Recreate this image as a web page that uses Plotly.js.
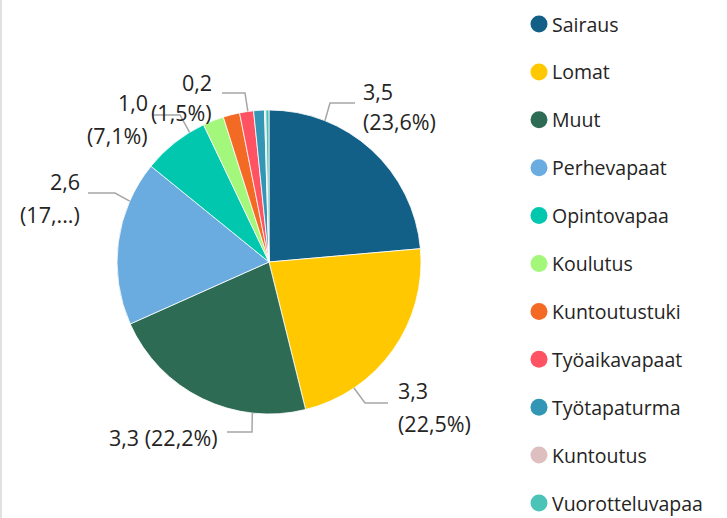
<!DOCTYPE html>
<html>
<head>
<meta charset="utf-8">
<script src="https://cdn.plot.ly/plotly-3.0.1.min.js"></script>
<style>
html,body{margin:0;padding:0;background:#fff;}
#chart{width:727px;height:518px;}
</style>
</head>
<body>
<div id="chart"></div>
<script>
// ---- data ----
const categories = ["Sairaus","Lomat","Muut","Perhevapaat","Opintovapaa","Koulutus","Kuntoutustuki","Työaikavapaat","Työtapaturma","Kuntoutus","Vuorotteluvapaa"];
const values = [3.5, 3.34, 3.29, 2.6, 1.048, 0.33, 0.26, 0.22, 0.17, 0.02, 0.05];
const colors = ["#125F87","#FFC800","#2E6B55","#6AACE0","#00C7AE","#A3F77A","#F26A23","#FF5263","#3396B5","#DEBFC0","#4CC3B7"];

// ---- layout constants (pixels) ----
const W = 727, H = 518;
const CX = 269, CY = 262, R = 152;
const FONT = "Open Sans, DejaVu Sans, sans-serif";
const TXT = "#252423";
const LINE = "#A6A6A6";
const LABEL_SIZE = 21.5, LEGEND_SIZE = 19.5;

// label placement for the labelled slices (edge angle in degrees clockwise from top)
const labelSpec = [
  {idx:0, ang:21.6,  elbow:[330,103], end:[355,103], side:"left",  tx:362, ys:[92,122]},
  {idx:1, ang:146,   elbow:[365,403], end:[388,403], side:"left",  tx:397, ys:[390,423]},
  {idx:2, ang:186.3, elbow:[252,432], end:[227,432], side:"right", tx:219, ys:[437], oneLine:true},
  {idx:3, ang:293.6, elbow:[115,193], end:[88,193],  side:"right", tx:81,  ys:[182,214], truncate:true},
  {idx:4, ang:328.5, elbow:[180,115], end:[153,115], side:"right", tx:149, ys:[103,136]},
  {idx:7, ang:352,   elbow:[245,93],  end:[222,93],  side:"right", tx:213, ys:[82,112]}
];

const px = x => x / W;
const py = y => 1 - y / H;
const total = values.reduce((a,b)=>a+b,0);
const fmt = v => v.toFixed(1).replace('.', ',');

const shapes = [];
const annotations = [];

// left border line
shapes.push({type:'line', xref:'paper', yref:'paper', x0:px(1), x1:px(1), y0:0, y1:1,
  line:{color:'#E1E1E1', width:2}});

labelSpec.forEach(s => {
  const a = s.ang * Math.PI / 180;
  const ex = CX + R * Math.sin(a), ey = CY - R * Math.cos(a);
  const path = `M ${px(ex)} ${py(ey)} L ${px(s.elbow[0])} ${py(s.elbow[1])} L ${px(s.end[0])} ${py(s.end[1])}`;
  shapes.push({type:'path', xref:'paper', yref:'paper', path:path, line:{color:LINE, width:1.5}});
  const v = values[s.idx];
  const valTxt = fmt(v);
  const pctTxt = s.truncate ? "(" + Math.floor(v/total*100) + ",...)" : "(" + fmt(v/total*100) + "%)";
  const lines = s.oneLine ? [valTxt + " " + pctTxt] : [valTxt, pctTxt];
  lines.forEach((t, k) => {
    annotations.push({xref:'paper', yref:'paper', x:px(s.tx), y:py(s.ys[k]), text:t, showarrow:false,
      xanchor: s.side === "left" ? "left" : "right", yanchor:'middle', borderpad:0,
      font:{family:FONT, size:LABEL_SIZE, color:TXT}});
  });
});

// custom legend with circle markers
const LX = 539, LTX = 551, LY0 = 24, LDY = 47.9, LRAD = 8.5;
categories.forEach((c, i) => {
  const y = LY0 + i * LDY;
  shapes.push({type:'circle', xref:'paper', yref:'paper',
    x0:px(LX-LRAD), x1:px(LX+LRAD), y0:py(y+LRAD), y1:py(y-LRAD),
    fillcolor:colors[i], line:{width:0}});
  annotations.push({xref:'paper', yref:'paper', x:px(LTX), y:py(y), text:c, showarrow:false,
    xanchor:'left', yanchor:'middle', borderpad:0, font:{family:FONT, size:LEGEND_SIZE, color:TXT}});
});

const trace = {
  type:'pie',
  labels:categories,
  values:values,
  sort:false,
  direction:'clockwise',
  rotation:0,
  textinfo:'none',
  hoverinfo:'label+value+percent',
  marker:{colors:colors, line:{color:'#FFFFFF', width:0.8}},
  domain:{x:[px(CX-R), px(CX+R)], y:[py(CY+R), py(CY-R)]},
  showlegend:false
};

const layout = {
  width:W, height:H,
  margin:{l:0, r:0, t:0, b:0},
  paper_bgcolor:'#FFFFFF',
  showlegend:false,
  shapes:shapes,
  annotations:annotations
};

Plotly.newPlot('chart', [trace], layout, {staticPlot:true, displayModeBar:false});
</script>
</body>
</html>
